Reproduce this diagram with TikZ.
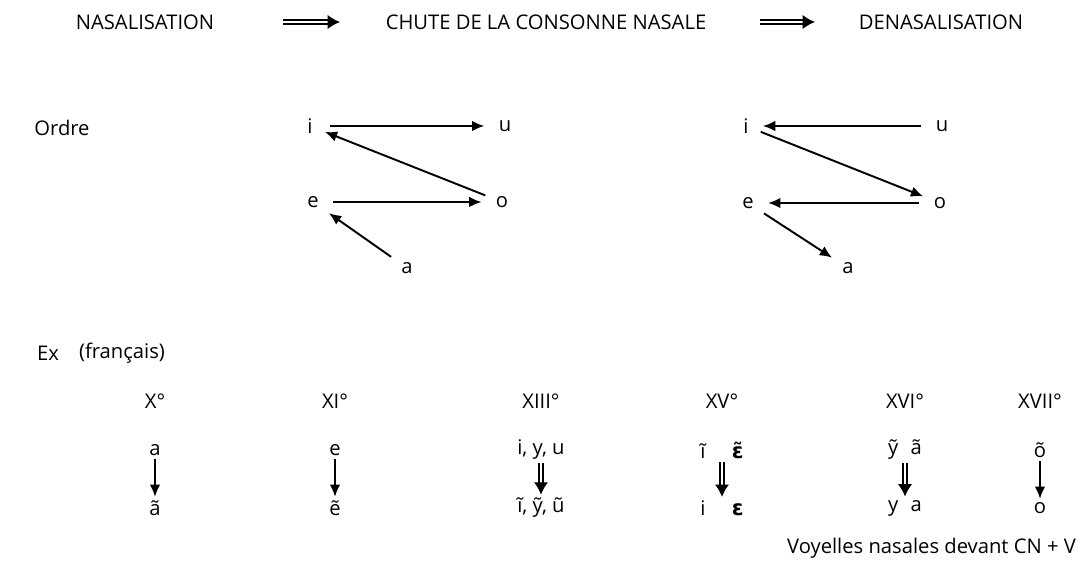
\documentclass[tikz,border=0pt]{standalone}
\usepackage{fontspec}
\setmainfont{Open Sans}
\newfontfamily\ipafont{DejaVu Sans}
\usetikzlibrary{arrows.meta}

\begin{document}
\begin{tikzpicture}[x=0.02cm, y=-0.02cm, >={Latex[length=7pt, width=6pt]}]
        \useasboundingbox (0, 0) rectangle (1083, 570);
        \tikzset{vowel/.style={inner sep=4pt}}
        \tikzset{dbl/.style={double, double distance=1.6pt, line width=0.7pt, -{Latex[length=7pt, width=8pt]}}}
        \fontsize{11.5}{13}\selectfont
        \node (nas) at (145, 22) {NASALISATION};
        \node (chute) at (546, 22) {CHUTE DE LA CONSONNE NASALE};
        \node (denas) at (941, 22) {DENASALISATION};
        \draw [dbl] (283, 22) coordinate (ta) -- (340, 22) coordinate (tb);
        \draw [dbl] (760, 22) coordinate (tc) -- (815, 22) coordinate (td);

        \node (ordre) at (62, 128) {Ordre};

        \node [vowel] (i1) at (310, 126) {i};
        \node [vowel] (u1) at (505, 126) {u};
        \node [vowel] (e1) at (313, 202) {e};
        \node [vowel] (o1) at (502, 202) {o};
        \node [vowel] (a1) at (407, 268) {a};
        \draw [->, line width=1.1pt, shorten <=6pt, shorten >=4pt] (i1) -- (u1);
        \draw [->, line width=1.1pt, shorten <=2pt, shorten >=3pt] (o1) -- (i1);
        \draw [->, line width=1.1pt, shorten <=4pt, shorten >=4pt] (e1) -- (o1);
        \draw [->, line width=1.1pt, shorten <=2pt, shorten >=2pt] (a1) -- (e1);

        \node [vowel] (i2) at (746, 126) {i};
        \node [vowel] (u2) at (942, 126) {u};
        \node [vowel] (e2) at (748, 203) {e};
        \node [vowel] (o2) at (940, 203) {o};
        \node [vowel] (a2) at (848, 268) {a};
        \draw [->, line width=1.1pt, shorten <=4pt, shorten >=4pt] (u2) -- (i2);
        \draw [->, line width=1.1pt, shorten <=3pt, shorten >=2pt] (i2) -- (o2);
        \draw [->, line width=1.1pt, shorten <=4pt, shorten >=4pt] (o2) -- (e2);
        \draw [->, line width=1.1pt, shorten <=2pt, shorten >=2pt] (e2) -- (a2);

        \node (ex) at (48, 353) {Ex};
        \node (fr) at (122, 353) {(français)};

        \node (s10) at (155, 401) {X°};
        \node (s11) at (335, 401) {XI°};
        \node (s13) at (541, 401) {XIII°};
        \node (s15) at (722, 401) {XV°};
        \node (s16) at (905, 401) {XVI°};
        \node (s17) at (1040, 401) {XVII°};

        \node (a10) at (155, 450) {a};
        \node (b10) at (155, 508) {ã};
        \node (a11) at (335, 450) {e};
        \node (b11) at (335, 508) {ẽ};
        \node (a13) at (541, 450) {i, y, u};
        \node (b13) at (541, 508) {ĩ, ỹ, ũ};
        \node (a15) at (722, 450) {ĩ\hspace{15pt}{\ipafont\bfseries\large ɛ̃}};
        \node (b15) at (722, 508) {i\hspace{15pt}{\ipafont\bfseries\large ɛ}};
        \node (a16) at (905, 450) {ỹ\hspace{7pt}ã};
        \node (b16) at (905, 508) {y\hspace{7pt}a};
        \node (a17) at (1040, 450) {õ};
        \node (b17) at (1040, 508) {o};

        \draw [->, line width=1.1pt, shorten <=-2pt, shorten >=-2pt] (a10) -- (b10);
        \draw [->, line width=1.1pt, shorten <=-2pt, shorten >=-2pt] (a11) -- (b11);
        \draw [dbl, shorten <=-2pt, shorten >=-2pt] (a13) -- (b13);
        \draw [dbl, shorten <=-2pt, shorten >=-2pt] (a15) -- (b15);
        \draw [dbl, shorten <=-2pt, shorten >=-2pt] (a16) -- (b16);
        \draw [->, line width=1.1pt, shorten <=-2pt, shorten >=-2pt] (a17) -- (b17);

        \node [anchor=east] (note) at (1083, 548) {Voyelles nasales devant CN + V};
\end{tikzpicture}
\end{document}
